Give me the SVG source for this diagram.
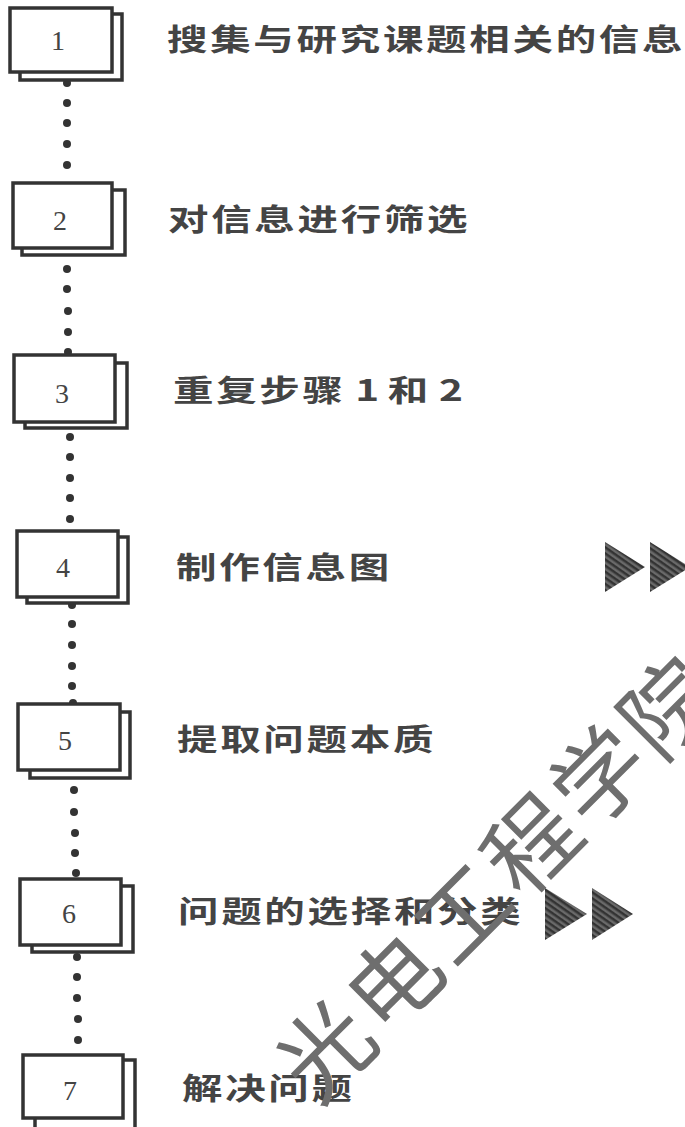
<svg xmlns="http://www.w3.org/2000/svg" width="685" height="1127" viewBox="0 0 685 1127">
<style>
.bk{fill:#fff;stroke:#333;stroke-width:3.5}
.fr{fill:#fff;stroke:#333;stroke-width:3.5}
.num{font-family:"Liberation Serif",serif;font-size:28px;fill:#444;text-anchor:middle}
.lbl{font-family:"Noto Sans CJK SC",sans-serif;font-size:30px;font-weight:700;fill:#444;letter-spacing:2px}
.dot{fill:#333}
.arr{fill:url(#hatch)}
.wm{font-family:"Noto Sans CJK SC",sans-serif;font-size:92px;fill:#6e6e6e;letter-spacing:5px}
</style>
<defs>
<pattern id="hatch" width="5" height="5" patternUnits="userSpaceOnUse" patternTransform="rotate(35)">
<rect width="5" height="5" fill="#6a6a6a"/>
<rect width="5" height="2.5" fill="#333"/>
</pattern>
</defs>
<rect width="685" height="1127" fill="#fff"/>
<g id="connectors">
<circle class="dot" cx="67" cy="83" r="4"/><circle class="dot" cx="67" cy="103" r="4"/><circle class="dot" cx="67" cy="123" r="4"/><circle class="dot" cx="67" cy="144" r="4"/><circle class="dot" cx="67" cy="165" r="4"/>
<circle class="dot" cx="67" cy="269" r="4"/><circle class="dot" cx="67" cy="289" r="4"/><circle class="dot" cx="68" cy="311" r="4"/><circle class="dot" cx="68" cy="332" r="4"/><circle class="dot" cx="68" cy="352" r="4"/>
<circle class="dot" cx="70" cy="437" r="4"/><circle class="dot" cx="70" cy="457" r="4"/><circle class="dot" cx="70" cy="478" r="4"/><circle class="dot" cx="70" cy="498" r="4"/><circle class="dot" cx="70" cy="519" r="4"/>
<circle class="dot" cx="72" cy="605" r="4"/><circle class="dot" cx="72" cy="624" r="4"/><circle class="dot" cx="72" cy="645" r="4"/><circle class="dot" cx="72" cy="666" r="4"/><circle class="dot" cx="72" cy="686" r="4"/><circle class="dot" cx="73" cy="703" r="4"/>
<circle class="dot" cx="74" cy="790" r="4"/><circle class="dot" cx="74" cy="812" r="4"/><circle class="dot" cx="75" cy="833" r="4"/><circle class="dot" cx="75" cy="853" r="4"/><circle class="dot" cx="76" cy="873" r="4"/>
<circle class="dot" cx="77" cy="957" r="4"/><circle class="dot" cx="77" cy="977" r="4"/><circle class="dot" cx="77" cy="998" r="4"/><circle class="dot" cx="78" cy="1019" r="4"/><circle class="dot" cx="78" cy="1040" r="4"/>
</g>
<g id="step1">
<rect class="bk" x="20" y="14" width="102" height="66"/>
<rect class="fr" x="10" y="8" width="102" height="64"/>
<text class="num" x="58" y="50">1</text>
<text class="lbl" transform="translate(167,50) scale(1.35,1)">搜集与研究课题相关的信息</text>
</g>
<g id="step2">
<rect class="bk" x="22" y="190" width="103" height="65"/>
<rect class="fr" x="13" y="183" width="99" height="65"/>
<text class="num" x="60" y="230">2</text>
<text class="lbl" transform="translate(168,230) scale(1.35,1)">对信息进行筛选</text>
</g>
<g id="step3">
<rect class="bk" x="25" y="363" width="102" height="65"/>
<rect class="fr" x="14" y="355" width="101" height="67"/>
<text class="num" x="62" y="403">3</text>
<text class="lbl" transform="translate(173,401) scale(1.35,1)"><tspan x="0">重复步骤</tspan><tspan x="135">1</tspan><tspan x="159">和</tspan><tspan x="197">2</tspan></text>
</g>
<g id="step4">
<rect class="bk" x="27" y="537" width="101" height="66"/>
<rect class="fr" x="17" y="531" width="101" height="66"/>
<text class="num" x="63" y="577">4</text>
<text class="lbl" transform="translate(176,578) scale(1.35,1)">制作信息图</text>
<polygon class="arr" points="605,542 605,592 645,567"/>
<polygon class="arr" points="650,542 650,592 690,567"/>
</g>
<g id="step5">
<rect class="bk" x="30" y="712" width="100" height="66"/>
<rect class="fr" x="18" y="704" width="102" height="66"/>
<text class="num" x="65" y="750">5</text>
<text class="lbl" transform="translate(177,750) scale(1.35,1)">提取问题本质</text>
</g>
<g id="step6">
<rect class="bk" x="32" y="886" width="101" height="66"/>
<rect class="fr" x="20" y="879" width="101" height="66"/>
<text class="num" x="69" y="923">6</text>
<text class="lbl" transform="translate(178,922) scale(1.35,1)">问题的选择和分类</text>
<polygon class="arr" points="545,888 545,940 587,914"/>
<polygon class="arr" points="592,888 592,940 633,914"/>
</g>
<g id="step7">
<rect class="bk" x="35" y="1060" width="100" height="70"/>
<rect class="fr" x="23" y="1055" width="100" height="63"/>
<text class="num" x="70" y="1100">7</text>
<text class="lbl" transform="translate(182,1099) scale(1.35,1)">解决问题</text>
</g>
<text class="wm" transform="translate(317,1107) rotate(-45)">光电工程学院</text>
</svg>
